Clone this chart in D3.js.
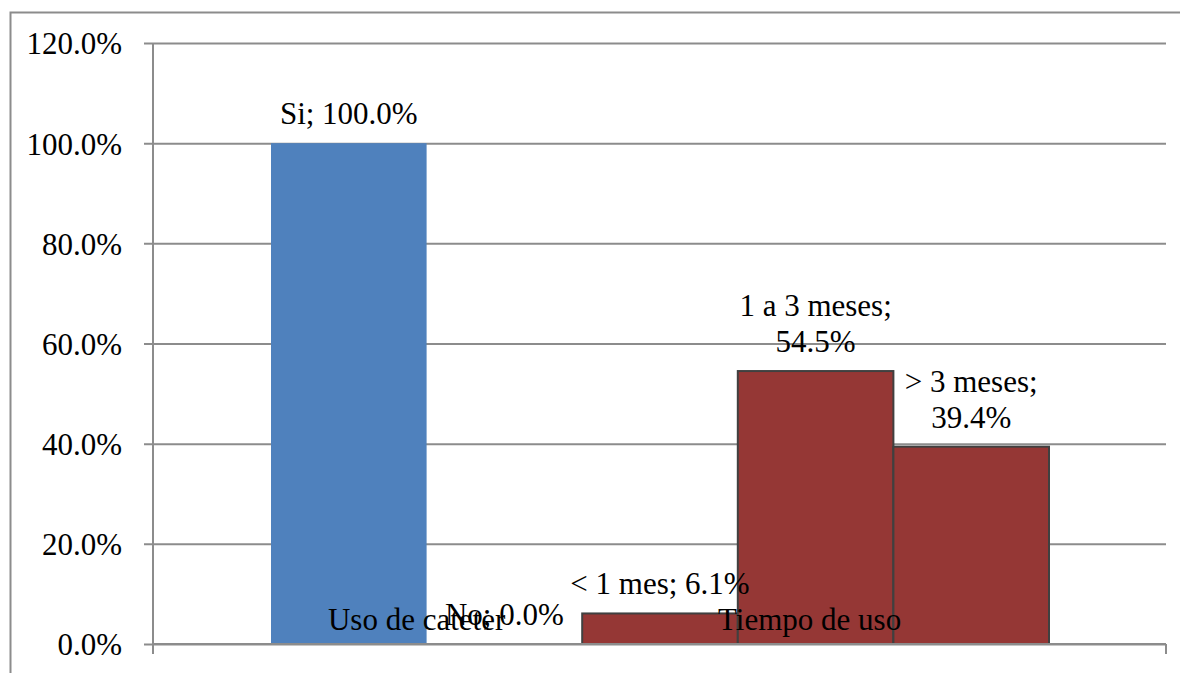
<!DOCTYPE html>
<html>
<head>
<meta charset="utf-8">
<script src="https://cdn.jsdelivr.net/npm/d3@7"></script>
<style>
  body { margin: 0; background: #fff; }
  text { font-family: "Liberation Serif", "Times New Roman", serif; fill: #000; }
</style>
</head>
<body>
<div id="chart"></div>
<script>
var WIDTH = 1180, HEIGHT = 673;

// series shown as bars (one per series, side by side)
var seriesNames = ['Si', 'No', '< 1 mes', '1 a 3 meses', '> 3 meses'];
var seriesValues = [1.0, 0.0, 0.061, 0.545, 0.394];
var seriesGroup = ['uso', 'uso', 'tiempo', 'tiempo', 'tiempo'];
// category axis labels
var categoryLabels = ['Uso de cateter', 'Tiempo de uso'];
var yTicks = [0, 0.2, 0.4, 0.6, 0.8, 1.0, 1.2];

var BLUE = '#4f81bd';
var RED = '#953735';
var GRID = '#8c8c8c';
var FONT = 31;

var svg = d3.select('#chart')
    .append('svg')
    .attr('width', WIDTH)
    .attr('height', HEIGHT);

//outer chart border
svg.append('path')
    .attr('d', 'M10.5,' + HEIGHT + 'V12.5H' + WIDTH)
    .attr('fill', 'none')
    .attr('stroke', GRID)
    .attr('stroke-width', 2);

var plotLeft = 153, plotRight = 1166, plotTop = 43, plotBottom = 644;

var y = d3.scaleLinear().domain([0, 1.2]).range([plotBottom, plotTop]);
var x = d3.scaleBand()
    .domain(seriesNames)
    .range([271, 1049])
    .padding(0);

//gridlines + y axis ticks
var yAxis = d3.axisLeft(y)
    .tickValues(yTicks)
    .tickSize(-(plotRight - plotLeft))
    .tickFormat(d3.format('.1%'));

var yg = svg.append('g')
    .attr('transform', 'translate(' + plotLeft + ',0)')
    .call(yAxis);
yg.select('.domain').remove();
yg.selectAll('.tick line')
    .attr('x1', -9)
    .attr('stroke', GRID)
    .attr('stroke-width', 2);
yg.selectAll('.tick text')
    .attr('x', -31)
    .attr('dy', '0.35em')
    .attr('font-size', FONT)
    .attr('font-family', '"Liberation Serif", serif')
    .attr('fill', '#000');

//vertical axis line
svg.append('line')
    .attr('x1', plotLeft).attr('x2', plotLeft)
    .attr('y1', plotTop).attr('y2', plotBottom + 10)
    .attr('stroke', GRID)
    .attr('stroke-width', 2);
//tick at the right end of category axis
svg.append('line')
    .attr('x1', plotRight).attr('x2', plotRight)
    .attr('y1', plotBottom).attr('y2', plotBottom + 10)
    .attr('stroke', GRID)
    .attr('stroke-width', 2);

//bars
svg.append('g').selectAll('rect')
    .data(seriesNames)
    .enter()
    .append('rect')
    .attr('x', function(d) { return x(d); })
    .attr('width', x.bandwidth())
    .attr('y', function(d, i) { return y(seriesValues[i]); })
    .attr('height', function(d, i) { return plotBottom - y(seriesValues[i]); })
    .attr('fill', function(d, i) { return seriesGroup[i] == 'uso' ? BLUE : RED; })
    .attr('stroke', function(d, i) { return seriesGroup[i] == 'uso' ? 'none' : '#404040'; })
    .attr('stroke-width', 2);

//redraw base line over bars
svg.append('line')
    .attr('x1', plotLeft).attr('x2', plotRight)
    .attr('y1', plotBottom).attr('y2', plotBottom)
    .attr('stroke', GRID)
    .attr('stroke-width', 2);

//category labels (they sit inside the plot, as in the original)
var catX = [
    x('No') - 10,
    x('1 a 3 meses') + x.bandwidth() / 2 - 6
];
svg.append('g').selectAll('text')
    .data(categoryLabels)
    .enter()
    .append('text')
    .attr('x', function(d, i) { return catX[i]; })
    .attr('y', 630)
    .attr('text-anchor', 'middle')
    .attr('font-size', FONT)
    .text(function(d) { return d; });

//data labels
var fmt = d3.format('.1%');
var labelLines = function(i) {
    var name = seriesNames[i], v = fmt(seriesValues[i]);
    if (i >= 3) return [name + ';', v];
    return [name + '; ' + v];
};
var lg = svg.append('g');
seriesNames.forEach(function(name, i) {
    var lines = labelLines(i);
    var cx = x(name) + x.bandwidth() / 2;
    var base = y(seriesValues[i]) - 19;
    lines.forEach(function(line, j) {
        lg.append('text')
            .attr('x', cx)
            .attr('y', base - (lines.length - 1 - j) * 36)
            .attr('text-anchor', 'middle')
            .attr('font-size', FONT)
            .text(line);
    });
});
</script>
</body>
</html>
